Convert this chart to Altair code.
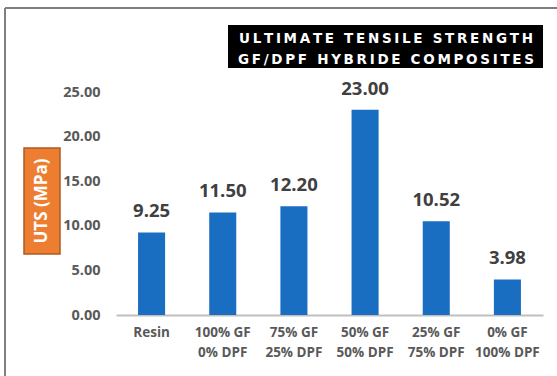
import altair as alt
import pandas as pd

# Ultimate tensile strength of GF/DPF hybrid composites
categories = [
    "Resin",
    "100% GF\n0% DPF",
    "75% GF\n25% DPF",
    "50% GF\n50% DPF",
    "25% GF\n75% DPF",
    "0% GF\n100% DPF",
]
uts_mpa = [9.25, 11.50, 12.20, 23.00, 10.52, 3.98]
y_ticks = [0, 5, 10, 15, 20, 25]
title_lines = ["ULTIMATE TENSILE STRENGTH", "GF/DPF HYBRIDE COMPOSITES"]
y_title = "UTS (MPa)"

W, H = 427, 223
BLUE = "#1A6EC2"
GREY = "#595959"
FONT = "Open Sans"


def spaced(s, sep="\u2009"):
    return sep.join(list(s))


df = pd.DataFrame({"cat": categories, "uts": uts_mpa})

x_enc = alt.X(
    "cat:N",
    sort=categories,
    title=None,
    scale=alt.Scale(paddingInner=0.62, paddingOuter=0.31),
    axis=alt.Axis(
        labelAngle=0,
        labelExpr="split(datum.label, '\\n')",
        labelFont=FONT,
        labelFontWeight="bold",
        labelFontSize=13.5,
        labelColor=GREY,
        labelLineHeight=20,
        labelPadding=10,
        domainColor="#BFBFBF",
        domainWidth=2,
        ticks=False,
        grid=False,
    ),
)
y_enc = alt.Y(
    "uts:Q",
    title=None,
    scale=alt.Scale(domain=[0, 25], nice=False),
    axis=alt.Axis(
        values=y_ticks,
        format=".2f",
        labelFont=FONT,
        labelFontWeight="bold",
        labelFontSize=14.5,
        labelColor=GREY,
        labelPadding=16,
        domain=False,
        ticks=False,
        grid=False,
    ),
)

base = alt.Chart(df)

bars = base.mark_bar(color=BLUE).encode(x=x_enc, y=y_enc)

values = base.mark_text(
    baseline="bottom",
    dy=-11,
    font=FONT,
    fontWeight="bold",
    fontSize=18.5,
    color="#404040",
).encode(x=x_enc, y=y_enc, text=alt.Text("uts:Q", format=".2f"))

one = pd.DataFrame({"k": [0]})

# decorative frame along the top and left edges
frame_top = alt.Chart(one).mark_rule(color="#7F7F7F", strokeWidth=2).encode(
    x=alt.value(-111), x2=alt.value(W + 20), y=alt.value(-84)
)
frame_left = alt.Chart(one).mark_rule(color="#7F7F7F", strokeWidth=2).encode(
    x=alt.value(-111), y=alt.value(-84), y2=alt.value(H + 80)
)

# black title box with two white lines
title_box = alt.Chart(one).mark_rect(color="black").encode(
    x=alt.value(112), x2=alt.value(427), y=alt.value(-67), y2=alt.value(-24)
)
title_style = dict(
    font="DejaVu Sans",
    fontWeight="bold",
    fontSize=13.5,
    color="white",
    align="center",
    baseline="alphabetic",
)
title_1 = alt.Chart(pd.DataFrame({"t": [spaced(title_lines[0])]})).mark_text(
    **title_style
).encode(x=alt.value(270), y=alt.value(-49), text="t:N")
title_2 = alt.Chart(pd.DataFrame({"t": [spaced(title_lines[1])]})).mark_text(
    **title_style
).encode(x=alt.value(270), y=alt.value(-28), text="t:N")

# orange y-axis title box
ytitle_box = alt.Chart(one).mark_rect(
    color="#ED7D31", stroke="#AE5A21", strokeWidth=1.5
).encode(x=alt.value(-92), x2=alt.value(-56), y=alt.value(56), y2=alt.value(162))
ytitle_text = alt.Chart(pd.DataFrame({"t": [y_title]})).mark_text(
    font=FONT,
    fontWeight="bold",
    fontSize=17,
    color="white",
    angle=270,
    align="center",
    baseline="middle",
).encode(x=alt.value(-74), y=alt.value(109), text="t:N")

chart = (
    alt.layer(
        bars, values, frame_top, frame_left, title_box, title_1, title_2,
        ytitle_box, ytitle_text,
    )
    .properties(
        width=W,
        height=H,
        padding={"left": 116, "top": 92, "right": 14, "bottom": 61},
        autosize=alt.AutoSizeParams(type="none"),
        background="white",
    )
    .configure_view(stroke=None)
)

chart.save("out.html", embed_options={"renderer": "svg", "actions": False})
